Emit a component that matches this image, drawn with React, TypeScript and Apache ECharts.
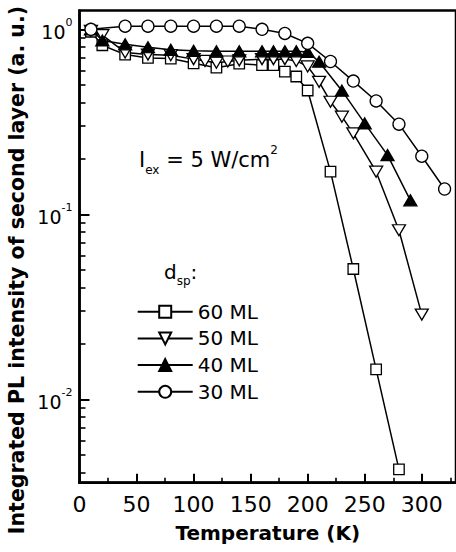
import React, { useEffect, useRef } from 'react';
import * as echarts from 'echarts';

const FONT = 'DejaVu Sans';

// ---- data (temperature in K, integrated PL intensity, a.u.) ----
const seriesNames = ['60 ML', '50 ML', '40 ML', '30 ML'];

const temps60 = [10, 20, 40, 60, 80, 100, 120, 140, 160, 170, 180, 190, 200, 220, 240, 260, 280];
const pl60 = [0.97, 0.82, 0.73, 0.70, 0.695, 0.655, 0.62, 0.652, 0.64, 0.64, 0.59, 0.556, 0.467, 0.17, 0.0506, 0.0145, 0.00418];

const temps50 = [10, 20, 40, 60, 80, 100, 110, 120, 130, 140, 160, 170, 180, 190, 200, 210, 220, 230, 240, 260, 280, 300];
const pl50 = [0.98, 0.93, 0.75, 0.73, 0.725, 0.69, 0.675, 0.66, 0.67, 0.68, 0.69, 0.69, 0.69, 0.675, 0.63, 0.52, 0.406, 0.337, 0.274, 0.17, 0.082, 0.0287];

const temps40 = [10, 20, 40, 60, 80, 100, 120, 140, 160, 170, 180, 190, 200, 210, 230, 250, 270, 290];
const pl40 = [1.0, 0.87, 0.83, 0.80, 0.775, 0.765, 0.76, 0.76, 0.76, 0.76, 0.76, 0.76, 0.755, 0.668, 0.466, 0.31, 0.209, 0.119];

const temps30 = [10, 40, 60, 80, 100, 120, 140, 160, 180, 200, 220, 240, 260, 280, 300, 320];
const pl30 = [1.0, 1.04, 1.04, 1.04, 1.04, 1.04, 1.04, 1.0, 0.95, 0.84, 0.67, 0.525, 0.41, 0.307, 0.206, 0.137];

// ---- axes ----
const X_MIN = 0;
const X_MAX = 330;
const xMajorTicks = [0, 50, 100, 150, 200, 250, 300];
const xMinorTicks = [25, 75, 125, 175, 225, 275, 325];

const Y_MIN = 0.00354;
const Y_MAX = 1.264;
const yMajorTicks = [0.01, 0.1, 1];
const yTickExponents = ['-2', '-1', '0'];
const yMinorTicks = [
  0.004, 0.005, 0.006, 0.007, 0.008, 0.009,
  0.02, 0.03, 0.04, 0.05, 0.06, 0.07, 0.08, 0.09,
  0.2, 0.3, 0.4, 0.5, 0.6, 0.7, 0.8, 0.9,
];

const xTitle = 'Temperature (K)';
const yTitle = 'Integrated PL intensity of second layer (a. u.)';

function makeSeries(
  name: string,
  xs: number[],
  ys: number[],
  symbol: string,
  size: number | number[],
  fill: string,
  rotate: number
) {
  return {
    type: 'line',
    name,
    data: xs.map((x, i) => [x, ys[i]]),
    symbol,
    symbolSize: size,
    symbolRotate: rotate,
    showSymbol: true,
    showAllSymbol: true,
    lineStyle: { color: '#000', width: 1.5 },
    itemStyle: { color: fill, borderColor: '#000', borderWidth: 1.3 },
    emphasis: { disabled: true },
  };
}

export default function App() {
  const ref = useRef<HTMLDivElement>(null);

  useEffect(() => {
    if (!ref.current) return;
    const chart = echarts.init(ref.current, null, { renderer: 'svg' });

    const option: any = {
      animation: false,
      backgroundColor: '#fff',
      grid: {
        left: 79.5,
        top: 10.5,
        right: -2.7,
        bottom: 69.3,
        show: true,
        borderColor: '#000',
        borderWidth: 2.5,
        backgroundColor: 'transparent',
      },
      xAxis: [
        {
          type: 'value',
          min: X_MIN,
          max: X_MAX,
          position: 'bottom',
          name: xTitle,
          nameLocation: 'middle',
          nameGap: 40,
          nameTextStyle: { fontFamily: FONT, fontSize: 20, fontWeight: 'bold', color: '#000' },
          axisLine: { show: true, lineStyle: { color: '#000', width: 2.5 } },
          axisTick: { show: true, inside: true, length: 9, lineStyle: { color: '#000', width: 2 }, customValues: xMajorTicks },
          axisLabel: { show: true, margin: 11, fontFamily: FONT, fontSize: 22, color: '#000', customValues: xMajorTicks },
          splitLine: { show: false },
        },
        {
          type: 'value',
          min: X_MIN,
          max: X_MAX,
          position: 'bottom',
          axisLine: { show: false },
          axisTick: { show: true, inside: true, length: 5, lineStyle: { color: '#000', width: 1.6 }, customValues: xMinorTicks },
          axisLabel: { show: false },
          splitLine: { show: false },
        },
      ],
      yAxis: [
        {
          type: 'log',
          logBase: 10,
          min: Y_MIN,
          max: Y_MAX,
          position: 'left',
          axisLine: { show: true, lineStyle: { color: '#000', width: 2.5 } },
          axisTick: { show: true, inside: true, length: 10, lineStyle: { color: '#000', width: 2 }, customValues: yMajorTicks },
          axisLabel: {
            show: true,
            margin: 7,
            customValues: yMajorTicks,
            formatter: (v: number) => {
              let idx = 0;
              let best = Infinity;
              yMajorTicks.forEach((t, i) => {
                const d = Math.abs(Math.log10(t) - Math.log10(v));
                if (d < best) { best = d; idx = i; }
              });
              return `{b|10}{s|${yTickExponents[idx]}}`;
            },
            rich: {
              b: { fontFamily: FONT, fontSize: 19, color: '#000', lineHeight: 24, verticalAlign: 'bottom' },
              s: { fontFamily: FONT, fontSize: 11, color: '#000', lineHeight: 12, verticalAlign: 'top' },
            },
          },
          splitLine: { show: false },
        },
        {
          type: 'log',
          logBase: 10,
          min: Y_MIN,
          max: Y_MAX,
          position: 'left',
          axisLine: { show: false },
          axisTick: { show: true, inside: true, length: 6, lineStyle: { color: '#000', width: 1.6 }, customValues: yMinorTicks },
          axisLabel: { show: false },
          splitLine: { show: false },
        },
      ],
      legend: {
        orient: 'vertical',
        left: 136.7,
        top: 301.7,
        itemWidth: 55,
        itemHeight: 15,
        itemGap: 6.7,
        padding: 0,
        textStyle: { fontFamily: FONT, fontSize: 20, color: '#000' },
        data: seriesNames,
      },
      graphic: [
        {
          type: 'text',
          x: 17,
          y: 270,
          rotation: Math.PI / 2,
          style: {
            text: yTitle,
            fontFamily: FONT,
            fontSize: 20.5,
            fontWeight: 'bold',
            fill: '#000',
            align: 'center',
            verticalAlign: 'middle',
          },
        },
        {
          type: 'text',
          x: 139,
          y: 160,
          style: {
            text: '{m|I}{sub|ex}{m| = 5 W/cm}{sup|2}',
            align: 'left',
            verticalAlign: 'middle',
            rich: {
              m: { fontFamily: FONT, fontSize: 21, fill: '#000', lineHeight: 32, verticalAlign: 'middle' },
              sub: { fontFamily: FONT, fontSize: 12, fill: '#000', lineHeight: 14, verticalAlign: 'bottom' },
              sup: { fontFamily: FONT, fontSize: 12, fill: '#000', lineHeight: 14, verticalAlign: 'top' },
            },
          },
        },
        {
          type: 'text',
          x: 164,
          y: 272,
          style: {
            text: '{m|d}{sub|sp}{m|:}',
            align: 'left',
            verticalAlign: 'middle',
            rich: {
              m: { fontFamily: FONT, fontSize: 20, fill: '#000', lineHeight: 30, verticalAlign: 'middle' },
              sub: { fontFamily: FONT, fontSize: 12, fill: '#000', lineHeight: 14, verticalAlign: 'bottom' },
            },
          },
        },
      ],
      series: [
        makeSeries(seriesNames[0], temps60, pl60, 'rect', 10.5, '#fff', 0),
        makeSeries(seriesNames[1], temps50, pl50, 'triangle', [13, 11], '#fff', 180),
        makeSeries(seriesNames[2], temps40, pl40, 'triangle', [13, 11], '#000', 0),
        makeSeries(seriesNames[3], temps30, pl30, 'circle', 12, '#fff', 0),
      ],
    };

    chart.setOption(option);
    return () => chart.dispose();
  }, []);

  return (
    <div
      ref={ref}
      style={{ position: 'absolute', left: 0, top: 0, width: 456, height: 552, background: '#fff' }}
    />
  );
}
